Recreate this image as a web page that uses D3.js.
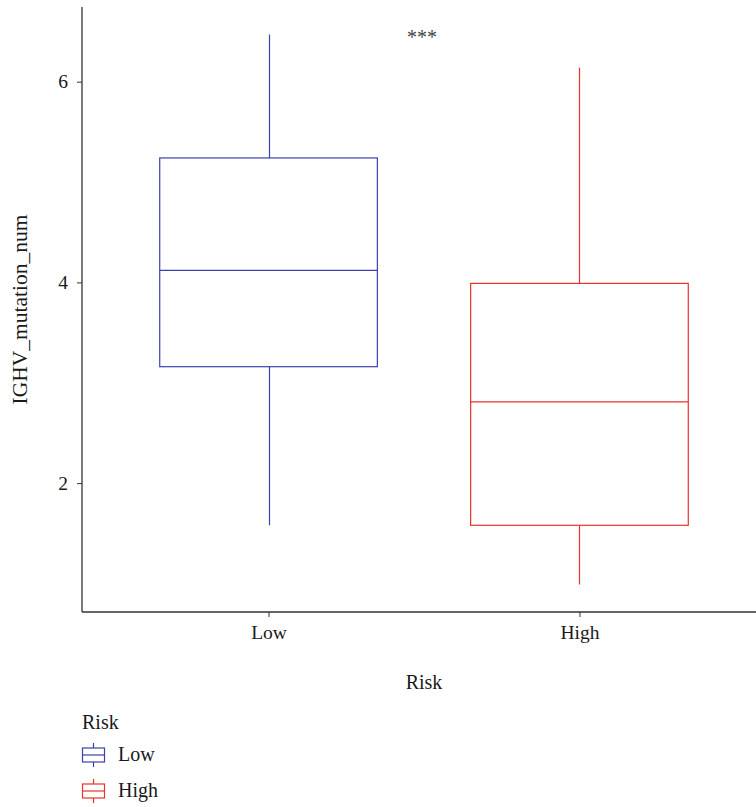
<!DOCTYPE html>
<html>
<head>
<meta charset="utf-8">
<script src="https://cdn.jsdelivr.net/npm/d3@7"></script>
<style>
  html, body { margin: 0; padding: 0; background: #fff; }
  svg text { font-family: "Liberation Serif", "DejaVu Serif", serif; }
</style>
</head>
<body>
<svg id="chart" width="756" height="807"></svg>
<script>
// Risk groups and their box-plot summaries of IGHV_mutation_num
const categories = ["Low", "High"];
const colors = ["#3c40b0", "#e8322b"];
const whiskerLow = [1.58, 0.99];
const q1 = [3.16, 1.58];
const medians = [4.12, 2.81];
const q3 = [5.24, 3.99];
const whiskerHigh = [6.47, 6.14];
const yTicks = [2, 4, 6];
const significance = "***";

const svg = d3.select("#chart");
const panelLeft = 82, panelBottom = 612, panelTop = 7, panelRight = 766;

// ggplot-style discrete axis: categories at 1..n with 0.6 expansion on each side
const x = d3.scaleLinear().domain([0.4, categories.length + 0.6]).range([panelLeft, panelRight]);
const yMin = d3.min(whiskerLow), yMax = d3.max(whiskerHigh);
const pad = (yMax - yMin) * 0.05;
const y = d3.scaleLinear().domain([yMin - pad, yMax + pad]).range([panelBottom, panelTop]);

const boxHalf = 0.35;
const axisColor = "#333";
const textColor = "#1a1a1a";
const fontSize = 19.5;

// boxes
const groups = svg.append("g").selectAll("g")
  .data(categories.map((c, i) => ({c, i})))
  .join("g")
  .attr("stroke", d => colors[d.i])
  .attr("fill", "none")
  .attr("stroke-width", 1.2);

groups.append("line")
  .attr("x1", d => Math.round(x(d.i + 1)) + 0.5).attr("x2", d => Math.round(x(d.i + 1)) + 0.5)
  .attr("y1", d => y(q3[d.i])).attr("y2", d => y(whiskerHigh[d.i]));
groups.append("line")
  .attr("x1", d => Math.round(x(d.i + 1)) + 0.5).attr("x2", d => Math.round(x(d.i + 1)) + 0.5)
  .attr("y1", d => y(q1[d.i])).attr("y2", d => y(whiskerLow[d.i]));
groups.append("rect")
  .attr("x", d => x(d.i + 1 - boxHalf))
  .attr("width", d => x(d.i + 1 + boxHalf) - x(d.i + 1 - boxHalf))
  .attr("y", d => y(q3[d.i]))
  .attr("height", d => y(q1[d.i]) - y(q3[d.i]));
groups.append("line")
  .attr("x1", d => x(d.i + 1 - boxHalf)).attr("x2", d => x(d.i + 1 + boxHalf))
  .attr("y1", d => y(medians[d.i])).attr("y2", d => y(medians[d.i]));

// y axis
const yAxis = svg.append("g")
  .attr("transform", `translate(${panelLeft},0)`)
  .call(d3.axisLeft(y).tickValues(yTicks).tickSize(5).tickPadding(9).tickFormat(d3.format("d")));
yAxis.select(".domain").attr("stroke", axisColor).attr("stroke-width", 1.3)
  .attr("d", `M0,${panelTop}V${panelBottom}`);
yAxis.selectAll(".tick line").attr("stroke", axisColor);
yAxis.selectAll(".tick text").attr("fill", textColor).style("font-size", fontSize + "px")
  .style("font-family", '"Liberation Serif", serif');

// x axis
const xAxis = svg.append("g")
  .attr("transform", `translate(0,${panelBottom})`)
  .call(d3.axisBottom(x).tickValues(categories.map((c, i) => i + 1)).tickSize(5).tickPadding(8)
    .tickFormat((d) => categories[d - 1]));
xAxis.select(".domain").attr("stroke", axisColor).attr("stroke-width", 1.3)
  .attr("d", `M${panelLeft},0H${panelRight}`);
xAxis.selectAll(".tick line").attr("stroke", axisColor);
xAxis.selectAll(".tick text").attr("fill", textColor).style("font-size", fontSize + "px")
  .style("font-family", '"Liberation Serif", serif');

// axis titles
svg.append("text")
  .attr("x", x((categories.length + 1) / 2)).attr("y", 689)
  .attr("text-anchor", "middle").attr("fill", textColor)
  .style("font-size", "20px").text("Risk");
svg.append("text")
  .attr("transform", `translate(27,${(panelTop + panelBottom) / 2}) rotate(-90)`)
  .attr("text-anchor", "middle").attr("fill", textColor)
  .style("font-size", "21.5px").text("IGHV_mutation_num");

// significance label between the groups
svg.append("text")
  .attr("x", x((categories.length + 1) / 2) - 2).attr("y", 43.5)
  .attr("text-anchor", "middle").attr("fill", "#444")
  .style("font-size", "20px").text(significance);

// legend
const legend = svg.append("g").attr("transform", "translate(82,0)");
legend.append("text").attr("x", 0).attr("y", 729).attr("fill", textColor)
  .style("font-size", "20px").text("Risk");
const items = legend.selectAll("g.item")
  .data(categories.map((c, i) => ({c, i})))
  .join("g").attr("class", "item")
  .attr("transform", d => `translate(0,${755 + d.i * 36})`);
items.append("line").attr("x1", 11.5).attr("x2", 11.5).attr("y1", -12).attr("y2", 12)
  .attr("stroke", d => colors[d.i]).attr("stroke-width", 1.2);
items.append("rect").attr("x", 0.5).attr("y", -7).attr("width", 22).attr("height", 14)
  .attr("fill", "#fff").attr("stroke", d => colors[d.i]).attr("stroke-width", 1.2);
items.append("line").attr("x1", 0.5).attr("x2", 22.5).attr("y1", 0).attr("y2", 0)
  .attr("stroke", d => colors[d.i]).attr("stroke-width", 1.2);
items.append("text").attr("x", 36).attr("y", 6).attr("fill", textColor)
  .style("font-size", "20px").text(d => d.c);
</script>
</body>
</html>
